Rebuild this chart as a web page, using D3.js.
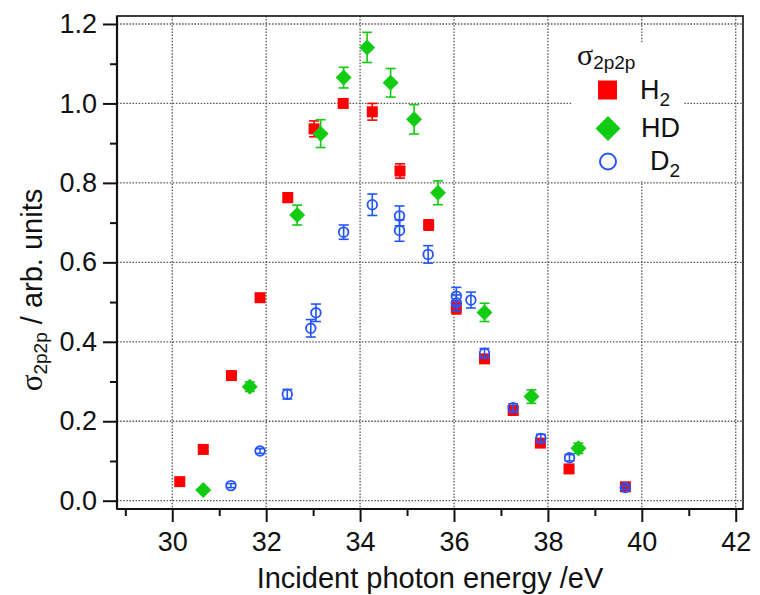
<!DOCTYPE html>
<html>
<head>
<meta charset="utf-8">
<script src="https://cdn.jsdelivr.net/npm/d3@7"></script>
<style>
  body { margin: 0; background: #fff; }
  text { font-family: "Liberation Sans", Arial, sans-serif; fill: #111; }
</style>
</head>
<body>
<div id="chart"></div>
<script>
// data
var h2X   = [30.16, 30.66, 31.26, 31.87, 32.46, 33.02, 33.64, 34.26, 34.85, 35.46, 36.05, 36.65, 37.26, 37.84, 38.45, 39.65];
var h2Y   = [0.048, 0.129, 0.315, 0.511, 0.763, 0.936, 1.000, 0.979, 0.830, 0.694, 0.485, 0.357, 0.227, 0.145, 0.080, 0.035];
var h2Err = [0.006, 0.006, 0.006, 0.006, 0.012, 0.020, 0.006, 0.021, 0.018, 0.013, 0.015, 0.010, 0.010, 0.008, 0.006, 0.006];

var hdX   = [30.66, 31.65, 32.66, 33.16, 33.65, 34.15, 34.65, 35.15, 35.66, 36.65, 37.65, 38.65];
var hdY   = [0.027, 0.287, 0.719, 0.924, 1.065, 1.141, 1.052, 0.960, 0.775, 0.474, 0.262, 0.132];
var hdErr = [0.005, 0.012, 0.025, 0.035, 0.026, 0.038, 0.036, 0.037, 0.030, 0.023, 0.017, 0.013];

var d2X   = [31.25, 31.87, 32.45, 32.95, 33.06, 33.65, 34.26, 34.84, 34.84, 35.45, 36.05, 36.05, 36.36, 36.65, 37.26, 37.85, 38.46, 39.65];
var d2Y   = [0.038, 0.125, 0.268, 0.434, 0.473, 0.676, 0.745, 0.717, 0.680, 0.620, 0.515, 0.498, 0.505, 0.371, 0.234, 0.157, 0.108, 0.033];
var d2Err = [0.005, 0.006, 0.012, 0.022, 0.022, 0.018, 0.027, 0.025, 0.027, 0.022, 0.022, 0.020, 0.020, 0.012, 0.010, 0.010, 0.008, 0.005];

var xMajor = [30, 32, 34, 36, 38, 40, 42];
var xMinor = [29, 31, 33, 35, 37, 39, 41];
var yMajor = [0.0, 0.2, 0.4, 0.6, 0.8, 1.0, 1.2];
var yMinor = [0.1, 0.3, 0.5, 0.7, 0.9, 1.1];

var red = "#ff0000", green = "#11cc11", blue = "#2255ff";

var svgWidth = 760;
var svgHeight = 595;
var plotLeft = 117, plotRight = 743, plotTop = 16, plotBottom = 509;

var svg = d3.select("#chart")
  .append("svg")
  .attr("width", svgWidth)
  .attr("height", svgHeight);

var x = d3.scaleLinear().domain([28.823, 42.155]).range([plotLeft, plotRight]);
var y = d3.scaleLinear().domain([-0.0209, 1.2201]).range([plotBottom, plotTop]);

// grid
var grid = svg.append("g").attr("class", "grid");
grid.selectAll("line.gx")
  .data(xMajor)
  .enter().append("line")
  .attr("x1", d => x(d)).attr("x2", d => x(d))
  .attr("y1", plotTop).attr("y2", plotBottom);
grid.selectAll("line.gy")
  .data(yMajor)
  .enter().append("line")
  .attr("x1", plotLeft).attr("x2", plotRight)
  .attr("y1", d => y(d)).attr("y2", d => y(d));
grid.selectAll("line")
  .attr("stroke", "#555")
  .attr("stroke-width", 1.3)
  .attr("stroke-dasharray", "1.5,1.6");

// legend background hides the grid
svg.append("rect")
  .attr("x", 572).attr("y", 43)
  .attr("width", 111).attr("height", 138)
  .attr("fill", "#fff");

// axes
function styleAxis(g) {
  g.select(".domain").remove();
  g.selectAll(".tick line").attr("stroke", "#111").attr("stroke-width", 2);
  g.selectAll(".tick text").style("font-size", "27px").attr("fill", "#111");
}

svg.append("g")
  .attr("transform", `translate(0, ${plotBottom})`)
  .call(d3.axisBottom(x).tickValues(xMajor).tickSize(13).tickPadding(10).tickFormat(d3.format("d")))
  .call(styleAxis);
svg.append("g")
  .attr("transform", `translate(0, ${plotBottom})`)
  .call(d3.axisBottom(x).tickValues(xMinor).tickSize(7).tickFormat(""))
  .call(styleAxis);

svg.append("g")
  .attr("transform", `translate(${plotLeft}, 0)`)
  .call(d3.axisLeft(y).tickValues(yMajor).tickSize(14).tickPadding(6).tickFormat(d3.format(".1f")))
  .call(styleAxis);
svg.append("g")
  .attr("transform", `translate(${plotLeft}, 0)`)
  .call(d3.axisLeft(y).tickValues(yMinor).tickSize(7).tickFormat(""))
  .call(styleAxis);

// frame
svg.append("rect")
  .attr("x", plotLeft).attr("y", plotTop)
  .attr("width", plotRight - plotLeft).attr("height", plotBottom - plotTop)
  .attr("fill", "none")
  .attr("stroke", "#111")
  .attr("stroke-width", 1.6);
svg.append("line")
  .attr("x1", plotLeft).attr("x2", plotRight).attr("y1", plotBottom).attr("y2", plotBottom)
  .attr("stroke", "#111").attr("stroke-width", 2.2);
svg.append("line")
  .attr("x1", plotLeft).attr("x2", plotLeft).attr("y1", plotTop).attr("y2", plotBottom)
  .attr("stroke", "#111").attr("stroke-width", 2.2);

// error bars
function errorBars(xs, ys, es, color) {
  var g = svg.append("g").attr("stroke", color).attr("stroke-width", 1.6);
  xs.forEach(function(xv, i) {
    var cx = x(xv), y1 = y(ys[i] - es[i]), y2 = y(ys[i] + es[i]);
    g.append("line").attr("x1", cx).attr("x2", cx).attr("y1", y1).attr("y2", y2);
    g.append("line").attr("x1", cx - 5).attr("x2", cx + 5).attr("y1", y1).attr("y2", y1);
    g.append("line").attr("x1", cx - 5).attr("x2", cx + 5).attr("y1", y2).attr("y2", y2);
  });
}

// H2 squares
errorBars(h2X, h2Y, h2Err, red);
svg.append("g").selectAll("rect")
  .data(h2X)
  .enter().append("rect")
  .attr("x", (d, i) => x(d) - 5.5)
  .attr("y", (d, i) => y(h2Y[i]) - 5.5)
  .attr("width", 11).attr("height", 11)
  .attr("fill", red);

// HD diamonds
errorBars(hdX, hdY, hdErr, green);
svg.append("g").selectAll("path")
  .data(hdX)
  .enter().append("path")
  .attr("transform", (d, i) => `translate(${x(d)}, ${y(hdY[i])})`)
  .attr("d", "M0,-8L8,0L0,8L-8,0Z")
  .attr("fill", green);

// D2 open circles
svg.append("g").selectAll("circle")
  .data(d2X)
  .enter().append("circle")
  .attr("cx", d => x(d))
  .attr("cy", (d, i) => y(d2Y[i]))
  .attr("r", 4.8)
  .attr("fill", "none")
  .attr("stroke", blue)
  .attr("stroke-width", 1.8);
errorBars(d2X, d2Y, d2Err, blue);

// legend
var legend = svg.append("g");
var lt = legend.append("text").attr("x", 577).attr("y", 65);
lt.append("tspan").text("σ").style("font-size", "30px").style("font-family", "'Liberation Serif', serif");
lt.append("tspan").text("2p2p").attr("dy", 4).style("font-size", "19px");

legend.append("rect")
  .attr("x", 598).attr("y", 80.5).attr("width", 19).attr("height", 19)
  .attr("fill", red);
legend.append("path")
  .attr("transform", "translate(608, 128.5)")
  .attr("d", "M0,-12.5L12.5,0L0,12.5L-12.5,0Z")
  .attr("fill", green);
legend.append("circle")
  .attr("cx", 608).attr("cy", 161.5).attr("r", 8)
  .attr("fill", "none").attr("stroke", blue).attr("stroke-width", 2);

var t1 = legend.append("text").attr("x", 640).attr("y", 99).style("font-size", "27px");
t1.append("tspan").text("H");
t1.append("tspan").text("2").attr("dy", 7).style("font-size", "19px");
legend.append("text").attr("x", 641).attr("y", 137).style("font-size", "27px").text("HD");
var t3 = legend.append("text").attr("x", 650).attr("y", 170).style("font-size", "27px");
t3.append("tspan").text("D");
t3.append("tspan").text("2").attr("dy", 7).style("font-size", "19px");

// axis titles
svg.append("text")
  .attr("x", (plotLeft + plotRight) / 2)
  .attr("y", 588)
  .attr("text-anchor", "middle")
  .style("font-size", "29px")
  .text("Incident photon energy /eV");

var yt = svg.append("text")
  .attr("transform", "translate(42, 290) rotate(-90)")
  .attr("text-anchor", "middle")
  .style("font-size", "29px");
yt.append("tspan").text("σ").style("font-family", "'Liberation Serif', serif").style("font-size", "31px");
yt.append("tspan").text("2p2p").attr("dy", 5).style("font-size", "19px");
yt.append("tspan").text(" / arb. units").attr("dy", -5);
</script>
</body>
</html>
